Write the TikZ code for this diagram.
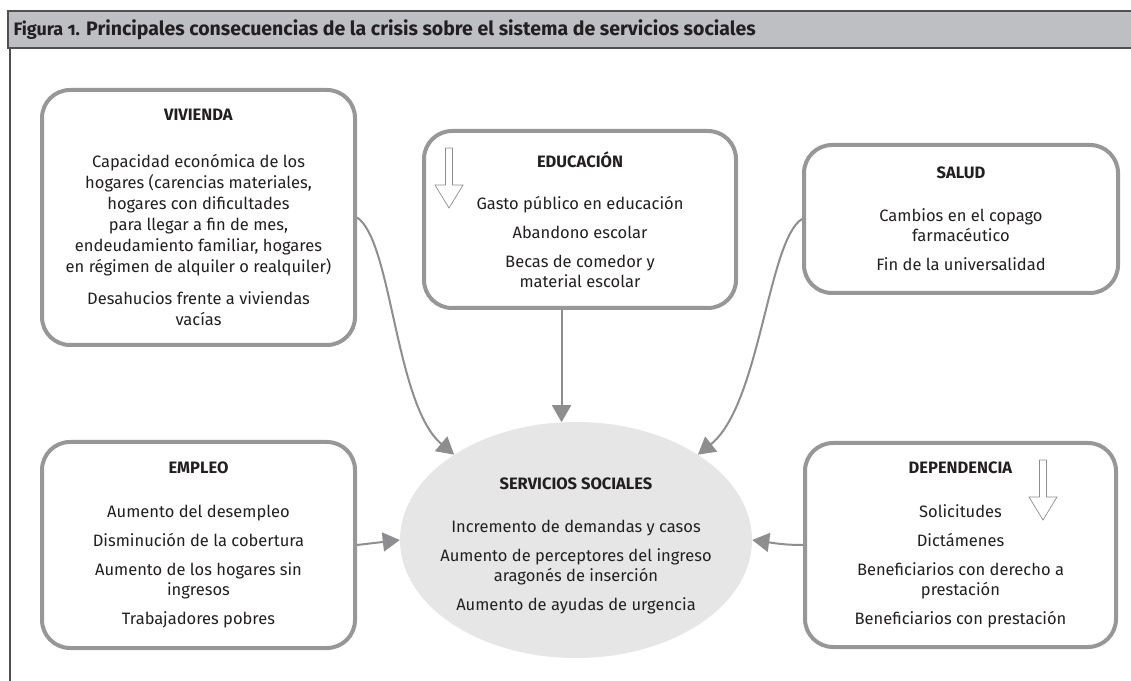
\documentclass[tikz,border=0pt]{standalone}
\usepackage{fontspec}
\setmainfont{Fira Sans}
\usetikzlibrary{shapes,positioning,arrows.meta}
\definecolor{grisCaja}{HTML}{97979A}
\definecolor{grisFlecha}{HTML}{8E8E91}
\definecolor{grisBarra}{HTML}{BEBFC3}
\definecolor{grisBorde}{HTML}{505052}
\definecolor{grisElipse}{HTML}{E6E6E7}
\definecolor{tinta}{HTML}{231F20}

\begin{document}
\begin{tikzpicture}[x=1pt, y=1pt,
      cuerpo/.style = {align=center, text=tinta, font=\fontsize{16.5}{20}\selectfont},
      caja/.style = {cuerpo, draw=grisCaja, line width=4pt, rounded corners=28pt, fill=white, inner sep=0pt},
      elipse/.style = {ellipse, fill=grisElipse, inner sep=0pt},
      titulo/.style = {anchor=west, text=tinta, font=\fontsize{19.5}{21}\selectfont\bfseries},
      flecha/.style = {draw=grisFlecha, line width=2pt, -{Triangle[length=17pt,width=19pt]}},
      hueca/.style = {draw=grisFlecha, line width=0.7pt, fill=white}
      ]
      \useasboundingbox (0,0) rectangle (1131,680);
      % cabecera
      \draw[grisBorde, fill=grisBarra, line width=1.5pt] (8,632) rectangle (1140,669);
      \draw[grisBorde, line width=1.5pt] (10,632) -- (10,-5);
      \node[titulo] (titulo) at (10,650.5) {{\fontsize{18}{19}\selectfont\addfontfeature{Numbers=OldStyle}Figura 1.} Principales consecuencias de la crisis sobre el sistema de servicios sociales};

      % cajas
      \node[caja, font=\fontsize{16.5}{21}\selectfont, minimum width=313, minimum height=255] (vivienda) at (198.5,462.5) {\textbf{VIVIENDA}\\[26pt]
        Capacidad económica de los\\ hogares (carencias materiales,\\ hogares con dificultades\\ para llegar a fin de mes,\\ endeudamiento familiar, hogares\\ en régimen de alquiler o realquiler)\\[11pt]
        Desahucios frente a viviendas\\ vacías};
      \node[caja, minimum width=312, minimum height=177] (educacion) at (580,460.5) {\textbf{EDUCACIÓN}\\[22pt]
        Gasto público en educación\\[9pt] Abandono escolar\\[9pt] Becas de comedor y\\ material escolar};
      \node[caja, minimum width=314, minimum height=148] (salud) at (961,461) {\textbf{SALUD}\\[23pt]
        Cambios en el copago\\ farmacéutico\\[9pt] Fin de la universalidad};
      \node[caja, minimum width=313, minimum height=206] (empleo) at (198.5,135) {\textbf{EMPLEO}\\[24pt]
        Aumento del desempleo\\[9pt] Disminución de la cobertura\\[9pt] Aumento de los hogares sin\\ ingresos\\[9pt] Trabajadores pobres};
      \node[caja, minimum width=311, minimum height=204] (dependencia) at (960.5,135) {\textbf{DEPENDENCIA}\\[24pt]
        Solicitudes\\[9pt] Dictámenes\\[9pt] Beneficiarios con derecho a\\ prestación\\[9pt] Beneficiarios con prestación};

      % servicios sociales
      \node[elipse, minimum width=352, minimum height=236] (servicios) at (576,140) {};
      \node[cuerpo] (serviciostxt) at ([yshift=-6pt]servicios.center) {\textbf{SERVICIOS SOCIALES}\\[23pt]
        Incremento de demandas y casos\\[9pt] Aumento de perceptores del ingreso\\ aragonés de inserción\\[9pt] Aumento de ayudas de urgencia};

      % flechas huecas
      \draw[hueca] (449,532) ++(-3.5,0) -- ++(0,-37) -- ++(-10.5,0) -- ++(14,-23) -- ++(14,23) -- ++(-10.5,0) -- ++(0,37) -- cycle;
      \draw[hueca] (1043,220) ++(-3.5,0) -- ++(0,-37) -- ++(-10.5,0) -- ++(14,-23) -- ++(14,23) -- ++(-10.5,0) -- ++(0,37) -- cycle;

      % conectores
      \draw[flecha] (vivienda.east) .. controls (392,440) and (395,275) .. (servicios.145);
      \draw[flecha] (salud.west) .. controls (768,440) and (760,275) .. (servicios.35);
      \draw[flecha] (educacion.south -| servicios.97) -- (servicios.97);
      \draw[flecha] (empleo.east) -- (servicios.west);
      \draw[flecha] (dependencia.west) to[out=180, in=-8] (servicios.east);
\end{tikzpicture}
\end{document}
